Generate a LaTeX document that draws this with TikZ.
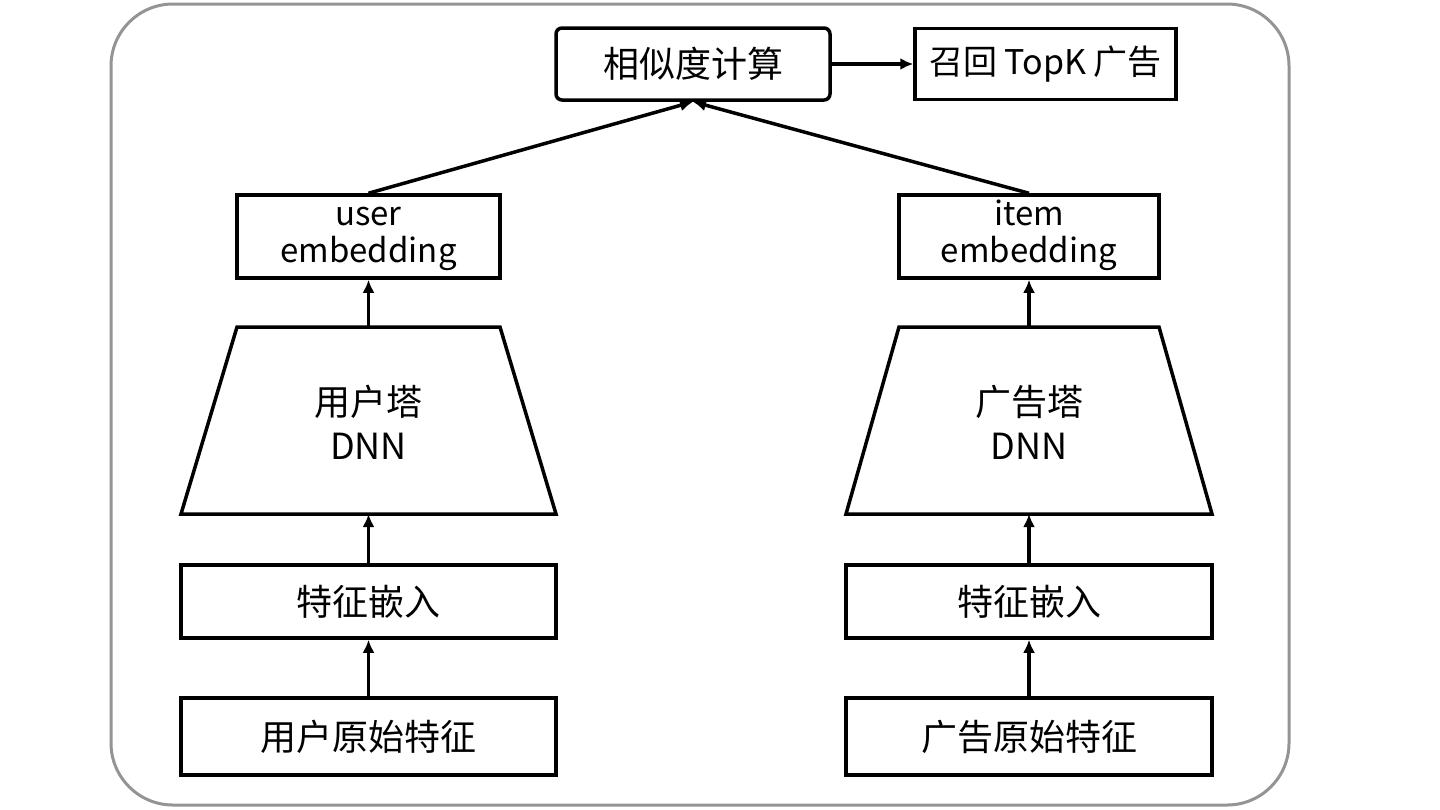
\documentclass[tikz,border=0pt]{standalone}
\usepackage{fontspec}
\setmainfont{Noto Sans CJK SC}
\usetikzlibrary{arrows.meta}
\begin{document}
\begin{tikzpicture}[x=1pt,y=-1pt,
  box/.style={draw=black,line width=3.5pt,inner sep=0pt,font=\fontsize{36}{36}\selectfont,align=center},
  ttext/.style={inner sep=0pt,font=\fontsize{36}{44}\selectfont,align=center},
  emb/.style={box,font=\fontsize{33}{36}\selectfont},
  arr/.style={line width=3.5pt,-{Latex[length=13pt,width=12pt]}}]
\useasboundingbox (0,0) rectangle (1440,809);
\draw[line width=3pt,draw=black!42,rounded corners=62pt] (111,4) rectangle (1289,805);
\node[box,rounded corners=6pt,minimum width=274pt,minimum height=72pt] (sim) at (693,64) {相似度计算};
\node[box,minimum width=261pt,minimum height=71pt,font=\fontsize{34}{36}\selectfont] (topk) at (1045.5,64) {召回 TopK 广告};
\node[emb,minimum width=263pt,minimum height=83pt] (uemb) at (368.5,236.5) {\raisebox{-7pt}{\begin{tabular}{@{}c@{}}user\\[0pt]embedding\end{tabular}}};
\node[emb,minimum width=260pt,minimum height=83pt] (iemb) at (1029,236.5) {\raisebox{-7pt}{\begin{tabular}{@{}c@{}}item\\[0pt]embedding\end{tabular}}};
% towers
\draw[line width=3.5pt,line join=miter] (237,327) -- (500,327) -- (556,514) -- (181,514) -- cycle;
\draw[line width=3.5pt,line join=miter] (899,327) -- (1159,327) -- (1212,514) -- (846,514) -- cycle;
\coordinate (utowtop) at (368.5,327);
\coordinate (utowbot) at (368.5,514);
\coordinate (itowtop) at (1029,327);
\coordinate (itowbot) at (1029,514);
\node[ttext] (utow) at (368.5,422) {用户塔\\DNN};
\node[ttext] (itow) at (1029,422) {广告塔\\DNN};
\node[box,minimum width=375pt,minimum height=73pt] (ufe) at (368.5,601.5) {特征嵌入};
\node[box,minimum width=366pt,minimum height=73pt] (ife) at (1029,601.5) {特征嵌入};
\node[box,minimum width=375pt,minimum height=77pt] (uraw) at (368.5,736.5) {用户原始特征};
\node[box,minimum width=366pt,minimum height=77pt] (iraw) at (1029,736.5) {广告原始特征};
\draw[arr] (sim) -- (topk);
\draw[arr] (uemb.north) -- (sim.south);
\draw[arr] (iemb.north) -- (sim.south);
\draw[arr] (utowtop) -- (uemb.south);
\draw[arr] (itowtop) -- (iemb.south);
\draw[arr] (ufe.north) -- (utowbot);
\draw[arr] (ife.north) -- (itowbot);
\draw[arr] (uraw.north) -- (ufe.south);
\draw[arr] (iraw.north) -- (ife.south);
\end{tikzpicture}
\end{document}
